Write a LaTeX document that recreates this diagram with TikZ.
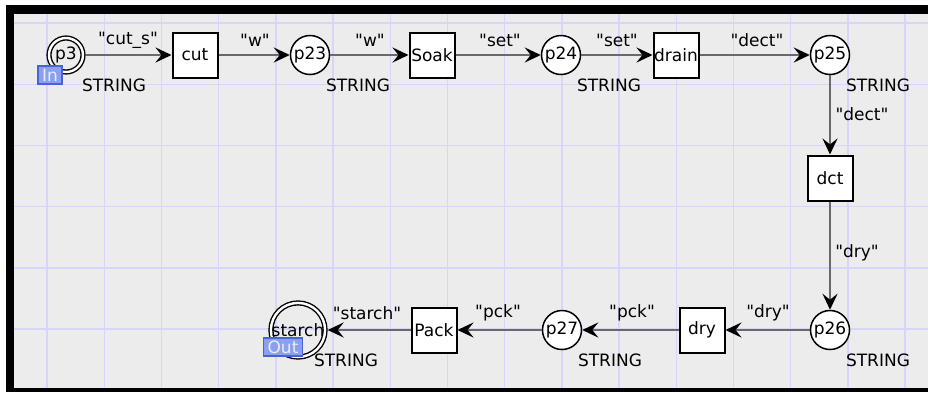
\documentclass[tikz,border=0pt]{standalone}
\usepackage{fontspec}
\setmainfont{DejaVu Sans}
\usetikzlibrary{arrows.meta}

\definecolor{canvas}{RGB}{236,236,236}
\definecolor{gridblue}{RGB}{214,214,250}
\definecolor{arcgray}{RGB}{105,105,105}
\definecolor{tagfill}{RGB}{140,160,236}
\definecolor{tagedge}{RGB}{72,100,212}
\definecolor{tagtext}{RGB}{232,236,255}

\begin{document}
\begin{tikzpicture}[
  x=1bp, y=-1bp,
  every node/.style={font=\fontsize{17bp}{20bp}\selectfont},
  place/.style={circle, draw, line width=1.5bp, fill=white, minimum size=39bp, inner sep=0pt},
  ioplace/.style={circle, draw, double, double distance=2.4bp, line width=1.4bp, minimum size=34bp, inner sep=0pt, outer sep=2.6bp},
  trans/.style={rectangle, draw, line width=2bp, fill=white, minimum size=45bp, inner sep=0pt},
  arc/.style={draw=arcgray, line width=2.6bp, -{Stealth[length=16bp, width=15bp, inset=6bp, black]}},
  inscr/.style={inner sep=0pt},
  colset/.style={inner sep=0pt},
  porttag/.style={draw=tagedge, fill=tagfill, text=tagtext, line width=1.3bp,
    inner xsep=4bp, inner ysep=0pt, minimum height=18bp, font=\fontsize{17bp}{19bp}\selectfont},
]
\pgfmathsetmacro{\gx}{57.2} % grid spacing, horizontal
\pgfmathsetmacro{\gy}{61.2} % grid spacing, vertical

\useasboundingbox (0,0) rectangle (928,392);

% Frame and sheet
\fill[white] (0,0) rectangle (928,392);
\fill[black] (6,5) rectangle (928,392);
\fill[canvas] (14,14) rectangle (928,388);

% Gridlines
\foreach \k in {0,...,15} {
  \draw[gridblue, line width=1.4bp] ({47+\k*\gx},14) -- ({47+\k*\gx},388);
}
\foreach \k in {0,...,5} {
  \draw[gridblue, line width=1.4bp] (14,{23+\k*\gy}) -- (928,{23+\k*\gy});
}

% Places and transitions
\node[ioplace] (p3)     at (66,55)   {p3};
\node[trans]   (cut)    at (195,55)  {cut};
\node[place]   (p23)    at (310,55)  {p23};
\node[trans]   (soak)   at (432,55)  {Soak};
\node[place]   (p24)    at (561,55)  {p24};
\node[trans]   (drain)  at (676,55)  {drain};
\node[place]   (p25)    at (830,55)  {p25};
\node[trans]   (dct)    at (830,178) {dct};
\node[place]   (p26)    at (830,330) {p26};
\node[trans]   (dry)    at (702,330) {dry};
\node[place]   (p27)    at (562,330) {p27};
\node[trans]   (pack)   at (434,330) {Pack};
\node[ioplace] (starch) at (298,330) {starch};

% Colour sets
\foreach \p in {p3,p23,p24,p25,p26,p27,starch} {
  \node[colset] (cs\p) at ([shift={(48,30)}]\p) {STRING};
}

% Port tags
\node[porttag] (tagin)  at ([shift={(-16,20)}]p3)     {In};
\node[porttag] (tagout) at ([shift={(-15,17)}]starch) {Out};

% Arcs
\draw[arc] (p3)    -- (cut);
\draw[arc] (cut)   -- (p23);
\draw[arc] (p23)   -- (soak);
\draw[arc] (soak)  -- (p24);
\draw[arc] (p24)   -- (drain);
\draw[arc] (drain) -- (p25);
\draw[arc] (p25)   -- (dct);
\draw[arc] (dct)   -- (p26);
\draw[arc] (p26)   -- (dry);
\draw[arc] (dry)   -- (p27);
\draw[arc] (p27)   -- (pack);
\draw[arc] (pack)  -- (starch);

% Arc inscriptions
\foreach \n/\x/\y/\lab in {
  a1/128/40/cut\_s,
  a2/255/40/w,
  a3/370/40/w,
  a4/500/40/set,
  a5/617/40/set,
  a6/757/40/dect,
  a7/862/114/dect,
  a8/857/253/dry,
  a9/768/313/dry,
  a10/632/313/pck,
  a11/498/313/pck,
  a12/367/313/starch%
} {
  \node[inscr] (\n) at (\x,\y) {\textquotedbl\lab\textquotedbl};
}

\end{tikzpicture}
\end{document}
